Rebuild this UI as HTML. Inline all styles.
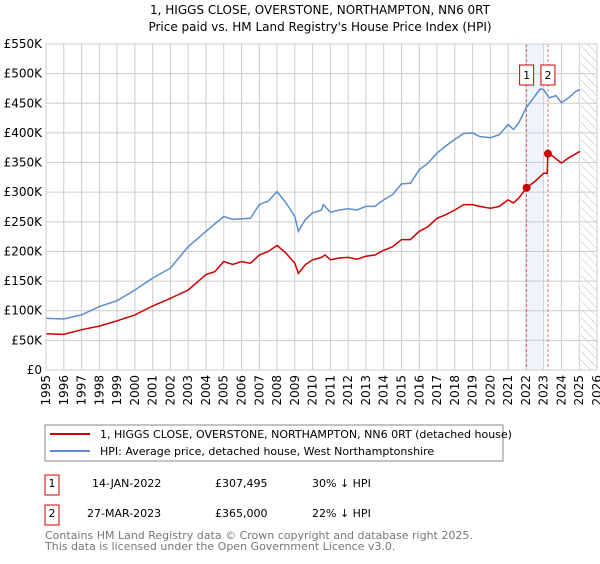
<!DOCTYPE html>
<html><head><meta charset="utf-8"><style>
body{margin:0;background:#fff;font-family:"DejaVu Sans","Liberation Sans",sans-serif;}
svg text{font-family:"DejaVu Sans","Liberation Sans",sans-serif;}
</style></head><body>
<svg id="chart" width="600" height="560" xmlns="http://www.w3.org/2000/svg">
<text x="320" y="14" font-size="12" text-anchor="middle">1, HIGGS CLOSE, OVERSTONE, NORTHAMPTON, NN6 0RT</text>
<text x="320" y="31" font-size="12" text-anchor="middle">Price paid vs. HM Land Registry's House Price Index (HPI)</text>
<g id="grid"></g><g id="series"></g><g id="axes"></g>
<rect x="45" y="425" width="458" height="36" fill="none" stroke="#888"/>
<line x1="50" y1="434" x2="90" y2="434" stroke="#cc0000" stroke-width="2"/>
<text x="100" y="438" font-size="11">1, HIGGS CLOSE, OVERSTONE, NORTHAMPTON, NN6 0RT (detached house)</text>
<line x1="50" y1="451" x2="90" y2="451" stroke="#5b8dd0" stroke-width="2"/>
<text x="100" y="455" font-size="11">HPI: Average price, detached house, West Northamptonshire</text>
<g font-size="11">
<rect x="45" y="475" width="14" height="20" fill="none" stroke="#cc0000"/>
<text x="52" y="487" text-anchor="middle">1</text>
<text x="92" y="487">14-JAN-2022</text><text x="215" y="487">£307,495</text><text x="312" y="487">30% ↓ HPI</text>
<rect x="45" y="505" width="14" height="20" fill="none" stroke="#cc0000"/>
<text x="52" y="517" text-anchor="middle">2</text>
<text x="87" y="517">27-MAR-2023</text><text x="215" y="517">£365,000</text><text x="312" y="517">22% ↓ HPI</text>
</g>
<text x="45" y="539" font-size="11" fill="#777">Contains HM Land Registry data © Crown copyright and database right 2025.</text>
<text x="45" y="550" font-size="11" fill="#777">This data is licensed under the Open Government Licence v3.0.</text>
</svg>
<script>
const hpiYears=[1995,1996,1997,1998,1999,2000,2001,2002,2003,2004,2005,2005.5,2006.5,2007,2007.5,2008,2008.5,2009,2009.2,2009.6,2010,2010.5,2010.6,2011,2011.5,2012,2012.5,2013,2013.5,2014,2014.5,2015,2015.5,2016,2016.5,2017,2017.5,2018,2018.5,2019,2019.4,2020,2020.5,2021,2021.3,2021.6,2022,2022.5,2022.8,2023,2023.3,2023.7,2024,2024.4,2024.8,2025.05];
const hpiValues=[87,86,93,107,117,135,155,172,208,234,259,254,256,279,285,301,282,259,234,254,265,270,279,266,270,272,270,276,276,287,296,314,315,338,349,366,378,389,399,400,394,392,397,414,406,417,442,462,474,473,459,463,451,459,470,473];
const propYears=[1995,1996,1997,1998,1999,2000,2001,2002,2003,2004,2004.5,2005,2005.5,2006,2006.5,2007,2007.5,2008,2008.5,2009,2009.2,2009.6,2010,2010.5,2010.7,2011,2011.5,2012,2012.5,2013,2013.5,2014,2014.5,2015,2015.5,2016,2016.5,2017,2017.5,2018,2018.5,2019,2019.4,2020,2020.5,2021,2021.3,2021.6,2022.04,2022.5,2023.0,2023.2,2023.24,2023.5,2024,2024.4,2025.05];
const propValues=[61,60,68,74,83,93,108,121,135,161,166,183,178,183,180,194,200,210,197,180,163,178,186,190,194,186,189,190,187,192,194,202,208,220,220,234,242,256,262,270,279,279,276,273,276,287,282,290,307.5,318,332,332,365,361,349,358,369];
const saleYears=[2022.04,2023.24];
const saleValues=[307.495,365];
const saleLabels=["1","2"];
const yTicks=[0,50,100,150,200,250,300,350,400,450,500,550];
const yTickLabels=["£0","£50K","£100K","£150K","£200K","£250K","£300K","£350K","£400K","£450K","£500K","£550K"];
const xTicks=[1995,1996,1997,1998,1999,2000,2001,2002,2003,2004,2005,2006,2007,2008,2009,2010,2011,2012,2013,2014,2015,2016,2017,2018,2019,2020,2021,2022,2023,2024,2025,2026];

const NS="http://www.w3.org/2000/svg";
const X0=46,X1=597,Y0=370,Y1=44;
const sx=y=>X0+(y-1995)/(2026-1995)*(X1-X0);
const sy=v=>Y0-v/550*(Y0-Y1);
function mk(t,a,p){const e=document.createElementNS(NS,t);for(const k in a)e.setAttribute(k,a[k]);p.appendChild(e);return e;}
const grid=document.getElementById('grid'),ser=document.getElementById('series'),ax=document.getElementById('axes');
let sh=mk('rect',{x:sx(2022.04),y:Y1,width:sx(2023.0)-sx(2022.04),height:Y0-Y1,fill:'#eef3fc'},grid);


let defs=mk('defs',{},grid);
let pat=mk('pattern',{id:'hatch',width:6,height:6,patternUnits:'userSpaceOnUse',patternTransform:'rotate(-45)'},defs);
mk('line',{x1:0,y1:0,x2:0,y2:6,stroke:'#bbb','stroke-width':1},pat);
let hr=mk('rect',{x:sx(2025.1),y:Y1,width:X1-sx(2025.1),height:Y0-Y1,fill:'url(#hatch)'},grid);


yTicks.forEach((v,i)=>{
 let l=mk('line',{x1:X0,x2:X1,y1:sy(v),y2:sy(v),stroke:'#ccc'},grid);
 
 
 let t=mk('text',{x:X0-4,y:sy(v)+4,'font-size':12,'text-anchor':'end'},ax);
 t.textContent=yTickLabels[i];
 
 
});
xTicks.forEach(y=>{
 let l=mk('line',{x1:sx(y),x2:sx(y),y1:Y1,y2:Y0,stroke:'#ccc'},grid);
 
 
 let t=mk('text',{x:0,y:0,'font-size':12,'text-anchor':'end',transform:`translate(${sx(y)+4},${Y0+5}) rotate(-90)`},ax);
 t.textContent=y;
 
 
});
saleYears.forEach((y,i)=>{
 let l=mk('line',{x1:sx(y),x2:sx(y),y1:Y1,y2:Y0,stroke:'#e05050','stroke-dasharray':'3,2','stroke-width':0.8},grid);
 
 
});
function path(xs,vs,col,name){
 let d=xs.map((x,i)=>(i?'L':'M')+sx(x).toFixed(1)+','+sy(vs[i]).toFixed(1)).join('');
 let p=mk('path',{d:d,fill:'none',stroke:col,'stroke-width':1.5},ser);
 
 
}
path(hpiYears,hpiValues,'#5b8dd0','hpi-line');
path(propYears,propValues,'#cc0000','property-line');
saleYears.forEach((y,i)=>{
 let c=mk('circle',{cx:sx(y),cy:sy(saleValues[i]),r:4,fill:'#cc0000'},ser);
 
 
 let bx=sx(y);
 let r=mk('rect',{x:bx-7,y:65,width:14,height:20,fill:'#fff',stroke:'#cc0000'},ser);
 
 
 let t=mk('text',{x:bx,y:79,'font-size':11,'text-anchor':'middle'},ser);
 t.textContent=saleLabels[i];
 
 
});
let fr=mk('rect',{x:X0,y:Y1,width:X1-X0,height:Y0-Y1,fill:'none',stroke:'#ccc'},ax);


</script>
</body></html>
